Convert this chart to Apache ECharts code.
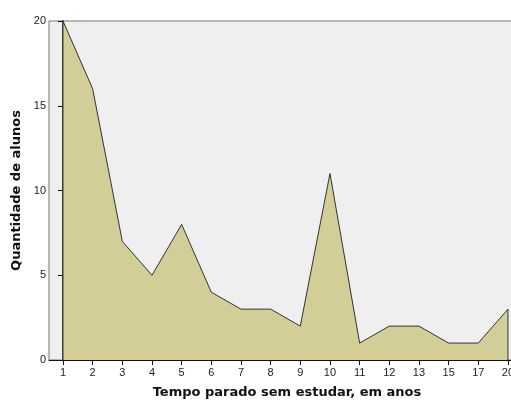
<!DOCTYPE html>
<html><head><meta charset="utf-8">
<script src="https://cdn.jsdelivr.net/npm/echarts@6/dist/echarts.min.js"></script>
<style>html,body{margin:0;padding:0;background:#fff}#c{width:511px;height:400px}</style>
</head><body><div id="c"></div>
<script>
const categories = ['1','2','3','4','5','6','7','8','9','10','11','12','13','15','17','20'];
const values = [20,16,7,5,8,4,3,3,2,11,1,2,2,1,1,3];
const yTicks = [0,5,10,15,20];

const idx = categories.map((c,i)=>i);
const pts = values.map((v,i)=>[i,v]);
const outline = [[0,0]].concat(pts).concat([[categories.length-1,0]]);

const chart = echarts.init(document.getElementById('c'));
chart.setOption({
  animation:false,
  backgroundColor:'#fff',
  grid:{left:49,top:21,right:-2,bottom:40,outerBoundsMode:'none',containLabel:false,show:true,backgroundColor:'#efefef',borderColor:'#777',borderWidth:1},
  xAxis:{
    type:'value', min:-0.472, max:15.17,
    name:'Tempo parado sem estudar, em anos', nameLocation:'middle', nameGap:26,
    nameTextStyle:{fontFamily:'DejaVu Sans',fontWeight:'bold',fontSize:13,color:'#111',padding:[0,0,0,12]},
    axisLine:{show:true,lineStyle:{color:'#111',width:1}},
    splitLine:{show:false},
    axisTick:{show:true,customValues:idx,length:5,lineStyle:{color:'#111'}},
    axisLabel:{customValues:idx,formatter:v=>categories[Math.round(v)],fontFamily:'Liberation Sans',fontSize:11,color:'#222',margin:7}
  },
  yAxis:{
    type:'value', min:0, max:20, interval:5,
    name:'Quantidade de alunos', nameLocation:'middle', nameGap:26,
    nameTextStyle:{fontFamily:'DejaVu Sans',fontWeight:'bold',fontSize:13,color:'#111'},
    axisLine:{show:true,lineStyle:{color:'#555',width:2}},
    splitLine:{show:false},
    axisTick:{show:true,length:5,lineStyle:{color:'#111'}},
    axisLabel:{fontFamily:'Liberation Sans',fontSize:11,color:'#222',margin:3,formatter:v=>yTicks.includes(v)?String(v):''}
  },
  series:[
    {type:'line',data:pts,symbol:'none',lineStyle:{width:0},areaStyle:{color:'#d3ce98',opacity:1},z:2},
    {type:'line',data:outline,symbol:'none',lineStyle:{color:'#333',width:1},z:3}
  ]
});
</script></body></html>
